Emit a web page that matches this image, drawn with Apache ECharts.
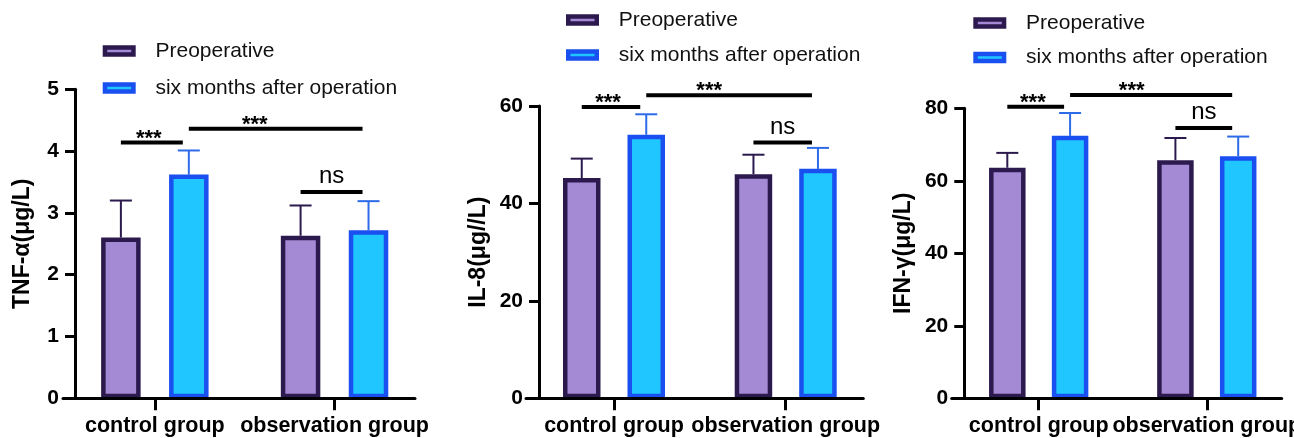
<!DOCTYPE html>
<html>
<head>
<meta charset="utf-8">
<script src="https://cdn.jsdelivr.net/npm/echarts@6.0.0/dist/echarts.min.js"></script>
<style>
  html, body { margin: 0; padding: 0; background: #ffffff; }
  #chart { width: 1294px; height: 438px; }
</style>
</head>
<body>
<div id="chart"></div>
<script>
// ---- data ----
const categories = ['control group', 'observation group'];
const seriesNames = ['Preoperative', 'six months after operation'];

const tnfPreMean = [2.60, 2.63];
const tnfPreSD = [0.60, 0.49];
const tnfPostMean = [3.62, 2.72];
const tnfPostSD = [0.39, 0.47];
const tnfTicks = [0, 1, 2, 3, 4, 5];

const il8PreMean = [45.2, 46.0];
const il8PreSD = [4.0, 4.0];
const il8PostMean = [54.1, 47.1];
const il8PostSD = [4.2, 4.3];
const il8Ticks = [0, 20, 40, 60];

const ifnPreMean = [63.6, 65.7];
const ifnPreSD = [4.1, 6.1];
const ifnPostMean = [72.4, 66.8];
const ifnPostSD = [6.3, 5.4];
const ifnTicks = [0, 20, 40, 60, 80];

// significance brackets: [category, series] at each end, bracket height in axis units
const tnfBrackets = [
  { from: [0, 0], to: [0, 1], level: 4.14, label: '***' },
  { from: [0, 1], to: [1, 1], level: 4.36, label: '***' },
  { from: [1, 0], to: [1, 1], level: 3.34, label: 'ns' }
];
const il8Brackets = [
  { from: [0, 0], to: [0, 1], level: 59.8, label: '***' },
  { from: [0, 1], to: [1, 1], level: 62.2, label: '***' },
  { from: [1, 0], to: [1, 1], level: 52.5, label: 'ns' }
];
const ifnBrackets = [
  { from: [0, 0], to: [0, 1], level: 80.4, label: '***' },
  { from: [0, 1], to: [1, 1], level: 83.7, label: '***' },
  { from: [1, 0], to: [1, 1], level: 74.6, label: 'ns' }
];

// ---- styling ----
const FONT = '"Liberation Sans", Arial, Helvetica, sans-serif';
const PRE_FILL = '#a48ad4';
const PRE_EDGE = '#2c1a4e';
const POST_FILL = '#1fc6ff';
const POST_EDGE = '#1a4ff0';
const POST_ERR = '#2e6be8';
const BAR_GAP = 0.72;
const PLOT_BOTTOM = 39.7;

const panels = [
  {
    title: 'TNF-α(μg/L)', ticks: tnfTicks, brackets: tnfBrackets,
    pre: tnfPreMean, preSD: tnfPreSD, post: tnfPostMean, postSD: tnfPostSD,
    layout: { xStart: 63, axisX: 75, xEnd: 415, bandLeft: 65, bandWidth: 359.4, top: 89.3,
              barWidth: 39.5, nameGap: 40.5, legendLeft: 102.7, legendTop: 40.5, legendGap: 16 }
  },
  {
    title: 'IL-8(μg//L)', ticks: il8Ticks, brackets: il8Brackets,
    pre: il8PreMean, preSD: il8PreSD, post: il8PostMean, postSD: il8PostSD,
    layout: { xStart: 526, axisX: 539, xEnd: 863.3, bandLeft: 528.15, bandWidth: 343.4, top: 106,
              barWidth: 37.5, nameGap: 49.2, legendLeft: 566, legendTop: 9.5, legendGap: 14 }
  },
  {
    title: 'IFN-γ(μg/L)', ticks: ifnTicks, brackets: ifnBrackets,
    pre: ifnPreMean, preSD: ifnPreSD, post: ifnPostMean, postSD: ifnPostSD,
    layout: { xStart: 951.7, axisX: 964.3, xEnd: 1281.7, bandLeft: 954.65, bandWidth: 336.2, top: 108.3,
              barWidth: 36.5, nameGap: 49.5, legendLeft: 973.3, legendTop: 12.5, legendGap: 13.5 }
  }
];

const option = {
  animation: false,
  backgroundColor: '#ffffff',
  grid: [], xAxis: [], yAxis: [], legend: [], series: []
};

panels.forEach((p, i) => {
  const L = p.layout;
  const bandGrid = 2 * i;
  const frameGrid = 2 * i + 1;
  const yMin = p.ticks[0];
  const yMax = p.ticks[p.ticks.length - 1];
  const yStep = p.ticks[1] - p.ticks[0];
  const pitch = L.barWidth * (1 + BAR_GAP);
  const slotX = (cat, slot, api) => api.coord([cat, 0])[0] + (slot - 0.5) * pitch;

  // grid that holds the bars and category labels
  option.grid.push({ left: L.bandLeft, width: L.bandWidth, top: L.top, bottom: PLOT_BOTTOM, outerBoundsMode: 'none', containLabel: false });
  // grid that draws the visible axis frame
  option.grid.push({ left: L.xStart, width: L.xEnd - L.xStart, top: L.top, bottom: PLOT_BOTTOM, outerBoundsMode: 'none', containLabel: false });

  option.xAxis.push({
    type: 'category', gridIndex: bandGrid, data: categories,
    axisLine: { show: false },
    axisTick: { show: true, alignWithLabel: true, length: 12, lineStyle: { color: '#000', width: 3 } },
    axisLabel: { color: '#000', fontFamily: FONT, fontWeight: 'bold', fontSize: 21.5, margin: 17, interval: 0 },
    splitLine: { show: false }
  });
  option.yAxis.push({
    type: 'value', gridIndex: bandGrid, min: yMin, max: yMax, show: false
  });

  option.xAxis.push({
    type: 'category', gridIndex: frameGrid, data: [''], z: 5,
    axisLine: { show: true, onZero: false, lineStyle: { color: '#000', width: 3 } },
    axisTick: { show: false }, axisLabel: { show: false }, splitLine: { show: false }
  });
  option.yAxis.push({
    type: 'value', gridIndex: frameGrid, min: yMin, max: yMax, interval: yStep,
    offset: -(L.axisX - L.xStart), z: 5,
    axisLine: { show: true, onZero: false, lineStyle: { color: '#000', width: 3 } },
    axisTick: { show: true, length: 10, lineStyle: { color: '#000', width: 3 } },
    axisLabel: { color: '#000', fontFamily: FONT, fontWeight: 'bold', fontSize: 21, margin: 16 },
    splitLine: { show: false },
    name: p.title, nameLocation: 'middle', nameRotate: 90, nameGap: L.nameGap, nameMoveOverlap: false,
    nameTextStyle: { color: '#000', fontFamily: FONT, fontWeight: 'bold', fontSize: 23 }
  });

  option.legend.push({
    orient: 'vertical', left: L.legendLeft, top: L.legendTop, itemGap: L.legendGap, padding: 0,
    itemWidth: 28.5, itemHeight: 7, icon: 'rect', selectedMode: false,
    data: seriesNames,
    itemStyle: { borderWidth: 4.5 },
    textStyle: { color: '#111', fontFamily: FONT, fontSize: 21, lineHeight: 21, padding: [0, 0, 0, 17] }
  });

  option.series.push({
    name: seriesNames[0], type: 'bar', xAxisIndex: bandGrid, yAxisIndex: bandGrid,
    data: p.pre, barWidth: L.barWidth, barGap: (BAR_GAP * 100) + '%', z: 3,
    itemStyle: { color: PRE_FILL, borderColor: PRE_EDGE, borderWidth: 4.5 }
  });
  option.series.push({
    name: seriesNames[1], type: 'bar', xAxisIndex: bandGrid, yAxisIndex: bandGrid,
    data: p.post, barWidth: L.barWidth, barGap: (BAR_GAP * 100) + '%', z: 3,
    itemStyle: { color: POST_FILL, borderColor: POST_EDGE, borderWidth: 4.5 }
  });

  // mean + SD whiskers
  const whiskers = [];
  categories.forEach((c, ci) => {
    whiskers.push([ci, p.pre[ci], p.preSD[ci], 0]);
    whiskers.push([ci, p.post[ci], p.postSD[ci], 1]);
  });
  option.series.push({
    type: 'custom', xAxisIndex: bandGrid, yAxisIndex: bandGrid, z: 2, silent: true,
    data: whiskers,
    renderItem: (params, api) => {
      const cat = api.value(0), mean = api.value(1), sd = api.value(2), slot = api.value(3);
      const x = slotX(cat, slot, api);
      const yBase = api.coord([cat, mean])[1];
      const yTop = api.coord([cat, mean + sd])[1];
      const color = slot === 0 ? PRE_EDGE : POST_ERR;
      const half = 11;
      return {
        type: 'group',
        children: [
          { type: 'line', shape: { x1: x, y1: yBase, x2: x, y2: yTop }, style: { stroke: color, lineWidth: 2 } },
          { type: 'line', shape: { x1: x - half, y1: yTop, x2: x + half, y2: yTop }, style: { stroke: color, lineWidth: 2 } }
        ]
      };
    }
  });

  // significance brackets
  option.series.push({
    type: 'custom', xAxisIndex: bandGrid, yAxisIndex: bandGrid, z: 4, silent: true, clip: false,
    data: p.brackets.map(b => [b.from[0], b.from[1], b.to[0], b.to[1], b.level]),
    renderItem: (params, api) => {
      const b = p.brackets[params.dataIndex];
      const x1 = slotX(api.value(0), api.value(1), api);
      const x2 = slotX(api.value(2), api.value(3), api) - 6;
      const y = api.coord([0, api.value(4)])[1];
      const isNs = b.label === 'ns';
      const spansGroups = api.value(0) !== api.value(2);
      const t = isNs ? 0.5 : (spansGroups ? 0.38 : 0.45);
      return {
        type: 'group',
        children: [
          { type: 'line', shape: { x1: x1, y1: y, x2: x2, y2: y }, style: { stroke: '#000', lineWidth: 4 } },
          {
            type: 'text', x: x1 + (x2 - x1) * t, y: isNs ? y - 15.5 : y - 4,
            style: {
              text: b.label, fill: '#000', fontFamily: FONT, fontSize: isNs ? 24 : 22,
              fontWeight: isNs ? 'normal' : 'bold',
              align: 'center', verticalAlign: 'middle'
            }
          }
        ]
      };
    }
  });
});

const chart = echarts.init(document.getElementById('chart'), null, { renderer: 'canvas' });
chart.setOption(option);
</script>
</body>
</html>
